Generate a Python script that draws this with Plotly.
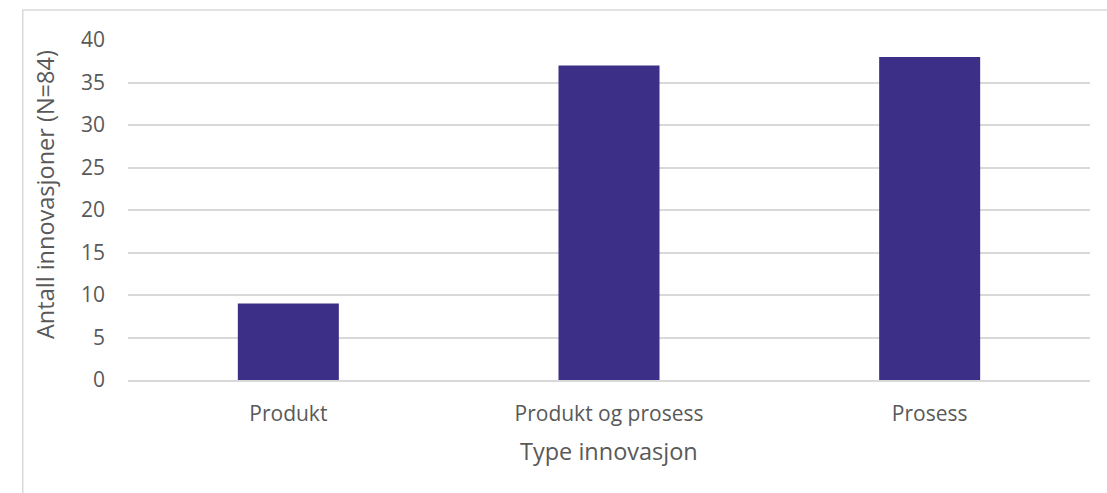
import plotly.graph_objects as go

categories = ["Produkt", "Produkt og prosess", "Prosess"]
values = [9, 37, 38]
y_ticks = [0, 5, 10, 15, 20, 25, 30, 35, 40]

bar_color = "#3C2F87"
text_color = "#595959"
grid_color = "#D9D9D9"
font_family = "Open Sans, Noto Sans, sans-serif"

fig = go.Figure(
    go.Bar(
        x=categories,
        y=values,
        marker=dict(color=bar_color, line=dict(width=0)),
        width=0.315,
    )
)

fig.update_layout(
    width=1107,
    height=493,
    margin=dict(l=128, r=17, t=40, b=113),
    paper_bgcolor="white",
    plot_bgcolor="white",
    showlegend=False,
    font=dict(family=font_family, color=text_color, size=21),
    shapes=[
        dict(
            type="rect",
            xref="paper", yref="paper",
            x0=-0.1094, x1=1.02,
            y0=-0.36, y1=1.0879,
            line=dict(color="#D9D9D9", width=1.5),
            fillcolor="rgba(0,0,0,0)",
            layer="below",
        )
    ],
    annotations=[
        dict(
            text="Type innovasjon",
            xref="paper", yref="paper",
            x=0.5, y=(380 - 451) / 340,
            xanchor="center", yanchor="middle",
            showarrow=False,
            font=dict(size=23.5, color=text_color, family=font_family),
        ),
        dict(
            text="Antall innovasjoner (N=84)",
            xref="paper", yref="paper",
            x=(45 - 128) / 962, y=(380 - 195) / 340,
            xanchor="center", yanchor="middle",
            textangle=-90,
            showarrow=False,
            font=dict(size=23.5, color=text_color, family=font_family),
        ),
    ],
)

fig.update_xaxes(
    showgrid=False,
    showline=True,
    linecolor=grid_color,
    linewidth=1.5,
    ticks="",
    ticklabelstandoff=14,
    tickfont=dict(size=21, color=text_color),
)

fig.update_yaxes(
    range=[0, 40],
    tickvals=y_ticks,
    showgrid=True,
    gridcolor=grid_color,
    gridwidth=1.5,
    zeroline=False,
    showline=False,
    ticks="",
    ticklabelstandoff=22,
    tickfont=dict(size=21, color=text_color),
)

fig.write_html("out.html")
